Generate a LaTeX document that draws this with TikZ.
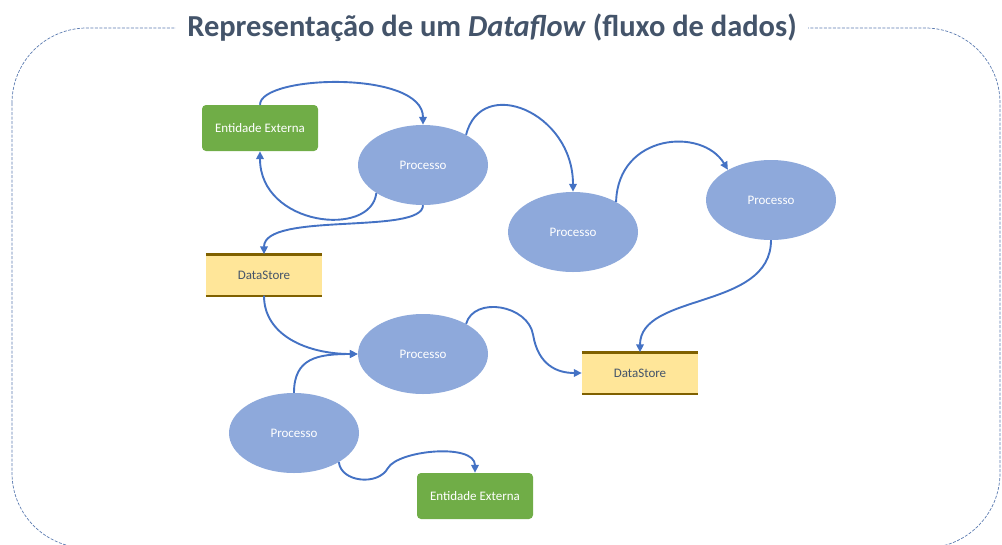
\documentclass[tikz,border=0pt]{standalone}
\usepackage{fontspec}
\setmainfont{Carlito}
\usetikzlibrary{arrows.meta,shapes.geometric}

\definecolor{flowblue}{HTML}{4472C4}
\definecolor{procfill}{HTML}{8EA9DB}
\definecolor{entfill}{HTML}{70AD47}
\definecolor{dsfill}{HTML}{FFE699}
\definecolor{dsline}{HTML}{7F6000}
\definecolor{slate}{HTML}{44546A}
\definecolor{framecol}{HTML}{5B7BB0}

\begin{document}
\begin{tikzpicture}[
  x=1pt, y=-1pt,
  font=\fontsize{13}{15}\selectfont,
  proc/.style={ellipse, fill=procfill, text=white, inner sep=0pt,
               minimum width=130pt, minimum height=80pt},
  ent/.style={rectangle, rounded corners=4pt, fill=entfill, text=white,
              minimum width=116pt, minimum height=46pt},
  store/.style={rectangle, fill=dsfill, text=slate,
                minimum width=116pt, minimum height=41pt},
  storeedge/.style={draw=dsline, line width=2.4pt},
  flow/.style={-{Triangle[length=8pt, width=7.5pt]}, draw=flowblue, line width=1.9pt},
  frame/.style={draw=framecol, dash pattern=on 3pt off 1.5pt, line width=0.7pt,
                rounded corners=75pt},
  ttl/.style={font=\fontsize{30.5}{36}\selectfont\bfseries, text=slate, fill=white,
              inner xsep=11pt, inner ysep=2pt}
]
\useasboundingbox (0,0) rectangle (1002,544);

% ---------------- frame and title ----------------
\draw[frame] (12,28) rectangle (1000,548);
\node[ttl] (title) at (492,28) {Representação de um \textit{Dataflow} (fluxo de dados)};

% ---------------- entities and stores ----------------
\node[ent] (ent1) at (260,128) {Entidade Externa};
\node[ent] (ent2) at (475,496) {Entidade Externa};

\node[store] (store1) at (264,275) {DataStore};
\node[store] (store2) at (640,373) {DataStore};
\draw[storeedge] (store1.north west) -- (store1.north east);
\draw[storeedge] (store1.south west) -- (store1.south east);
\draw[storeedge] (store2.north west) -- (store2.north east);
\draw[storeedge] (store2.south west) -- (store2.south east);

% ---------------- processes ----------------
\node[proc] (proc1) at (423,165) {Processo};
\node[proc] (proc2) at (573,232) {Processo};
\node[proc] (proc3) at (771,200) {Processo};
\node[proc] (proc4) at (423,354) {Processo};
\node[proc] (proc5) at (294,433) {Processo};

% ---------------- flows ----------------
\draw[flow] (ent1.north) .. controls +(0,-30) and +(0,-55) .. (proc1.north);
\draw[flow] (proc1.211) .. controls +(-5,45) and +(0,75) .. (ent1.south);
\draw[flow] (proc1.south) .. controls +(0,30) and +(0,-43) .. (store1.north);
\draw[flow] (proc1.35) .. controls +(15,-60) and +(0,-80) .. (proc2.north);
\draw[flow] (proc2.35) .. controls +(2,-68) and +(-26,-43) .. (proc3.145);
\draw[flow] (proc3.south) .. controls +(0,70) and +(0,-60) .. (store2.north);
\draw[flow] (store1.south) .. controls +(0,40) and +(-50,0) .. (proc4.west);
\draw[flow] (proc5.north) .. controls +(0,-35) and +(-40,0) .. (proc4.west);
\draw[flow] (proc4.35) .. controls +(8,-28) and +(-5,-30) .. ++(67,11)
  .. controls +(5,30) and +(-25,0) .. (store2.west);
\draw[flow] (proc5.-33) .. controls +(2,20) and +(-10,18) .. ++(49,6)
  .. controls +(10,-18) and +(0,-30) .. (ent2.north);

\end{tikzpicture}
\end{document}
